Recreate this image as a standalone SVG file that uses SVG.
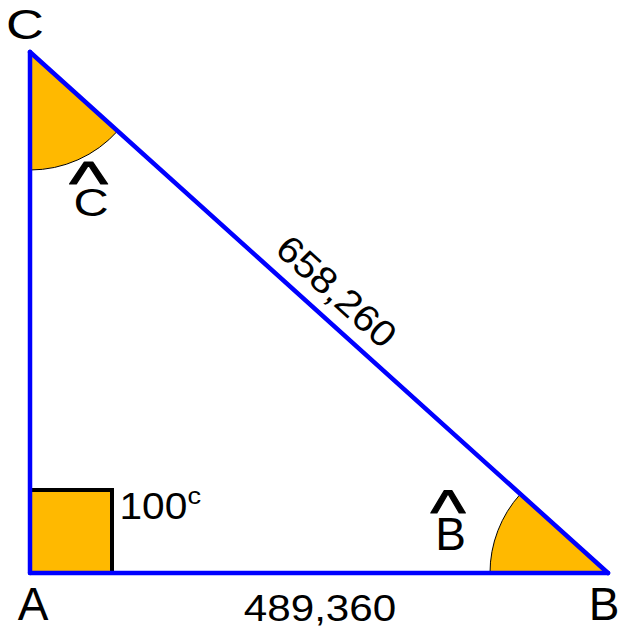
<svg xmlns="http://www.w3.org/2000/svg" width="619" height="630" viewBox="0 0 619 630">
<style>
.t{font-family:"Liberation Sans",Arial,sans-serif;fill:#000}
.hat{stroke:#000;stroke-width:1.1;stroke-linejoin:round}
.fill{fill:#FFB900}
.side{stroke:#0000FF;stroke-width:4.5;fill:none;stroke-linecap:round}
.arc{fill:none;stroke:#000;stroke-width:1}
</style>
<rect width="619" height="630" fill="#fff"/>
<g id="angle-A">
<rect x="29" y="490" width="83" height="83" class="fill"/>
<polyline points="29,490 112,490 112,573" fill="none" stroke="#000" stroke-width="4"/>
</g>
<g id="angle-C">
<path d="M30,52 L30,170 A118,118 0 0 0 117.6,131 Z" class="fill"/>
<path d="M30,170 A118,118 0 0 0 117.6,131" class="arc"/>
</g>
<g id="angle-B">
<path d="M608,573 L490,573 A118,118 0 0 1 520.4,494 Z" class="fill"/>
<path d="M490,573 A118,118 0 0 1 520.4,494" class="arc"/>
</g>
<g id="connectors">
<line x1="30" y1="52" x2="30" y2="573" class="side"/>
<line x1="30" y1="573" x2="608" y2="573" class="side"/>
<line x1="30" y1="52" x2="608" y2="573" class="side"/>
</g>
<g id="labels">
<text class="t" font-size="42" text-anchor="middle" transform="translate(25,38.5) scale(1.25,1)">C</text>
<text class="t" x="33" y="620" font-size="46" text-anchor="middle">A</text>
<text class="t" x="604" y="620" font-size="46" text-anchor="middle">B</text>
<text class="t" font-size="36" transform="translate(119.5,519) scale(1.13,1)">100<tspan font-size="24" dy="-15">c</tspan></text>
<text class="t" font-size="37" text-anchor="middle" transform="translate(320,621) scale(1.14,1)">489,360</text>
<text class="t" font-size="37" text-anchor="middle" transform="translate(328,301) rotate(42.03) scale(1.1,1)">658,260</text>
<text class="t hat" font-size="62" text-anchor="middle" transform="translate(88.5,204.4) scale(1.33,1)">^</text>
<text class="t" font-size="39" text-anchor="middle" transform="translate(91,216) scale(1.25,1)">C</text>
<text class="t hat" font-size="62" text-anchor="middle" transform="translate(448,534.4) scale(1.21,1)">^</text>
<text class="t" font-size="46" text-anchor="middle" x="450.5" y="550">B</text>
</g>
</svg>
